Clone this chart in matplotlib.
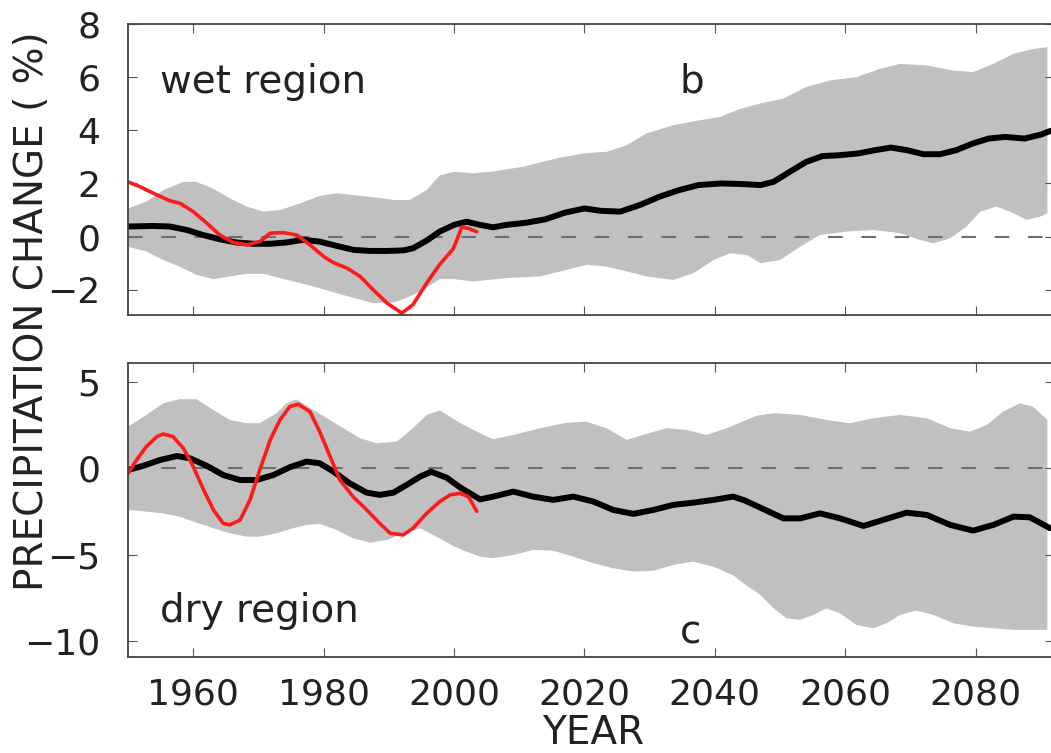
import numpy as np
import matplotlib
matplotlib.use("Agg")
import matplotlib.pyplot as plt

# ---- wet region (panel b) ----
wet_mean_years = [1950, 1953.9, 1956.4, 1959, 1961.5, 1964.1, 1966.6, 1969.2, 1971.8, 1974.3,
                  1976.9, 1979.4, 1982, 1984.6, 1987.1, 1989.7, 1992.2, 1993.7, 1995.8, 1997.8,
                  2000, 2001.9, 2004, 2006, 2008, 2011, 2014, 2017, 2020, 2022.5,
                  2025.5, 2028.5, 2031.5, 2034.5, 2037.5, 2041, 2044, 2047, 2049, 2051.5,
                  2054, 2056.5, 2059, 2062, 2064.5, 2067, 2069.5, 2072, 2074.5, 2077,
                  2079.5, 2082, 2084.5, 2087.5, 2090, 2091.5]
wet_mean = [0.38, 0.4, 0.38, 0.25, 0.06, -0.1, -0.22, -0.27, -0.27, -0.22,
            -0.12, -0.19, -0.35, -0.5, -0.54, -0.54, -0.52, -0.44, -0.15, 0.19,
            0.44, 0.56, 0.44, 0.35, 0.44, 0.52, 0.65, 0.9, 1.06, 0.97,
            0.94, 1.19, 1.5, 1.75, 1.94, 2.0, 1.98, 1.94, 2.06, 2.44,
            2.81, 3.03, 3.06, 3.13, 3.25, 3.35, 3.25, 3.1, 3.1, 3.25,
            3.5, 3.69, 3.75, 3.69, 3.84, 3.98]

wet_up_years = [1950, 1952.8, 1955.4, 1958.5, 1960.5, 1963, 1965.6, 1968.2, 1970.8, 1973.3,
                1976.4, 1979.4, 1982, 1984.6, 1987.6, 1990.7, 1993.2, 1995.8, 1997.8, 2000,
                2002.8, 2006, 2010.6, 2015.7, 2019.8, 2023.4, 2026.5, 2029.5, 2033.6, 2037.7,
                2040.8, 2043.8, 2046.8, 2050.5, 2054, 2057.7, 2061.7, 2065.3, 2068.4, 2072.5,
                2076.6, 2079.6, 2082.7, 2085.8, 2088.8, 2091]
wet_upper = [1.06, 1.31, 1.75, 2.06, 2.06, 1.81, 1.44, 1.13, 0.94, 1.0,
             1.25, 1.53, 1.63, 1.56, 1.48, 1.38, 1.38, 1.75, 2.3, 2.44,
             2.38, 2.45, 2.63, 2.94, 3.13, 3.19, 3.44, 3.88, 4.19, 4.38,
             4.5, 4.8, 5.0, 5.19, 5.63, 5.88, 6.0, 6.31, 6.5, 6.44,
             6.25, 6.19, 6.5, 6.88, 7.06, 7.13]

wet_lo_years = [1950, 1952.8, 1955.4, 1957.9, 1960.5, 1963.1, 1965.6, 1968.2, 1970.8, 1973.3,
                1976.4, 1979.4, 1982, 1984.6, 1987.6, 1990.7, 1992.7, 1995.3, 1997.8, 2000,
                2002.9, 2008, 2013.2, 2017.3, 2020.3, 2023.4, 2026.5, 2029.5, 2033.6, 2036.7,
                2039.8, 2042.3, 2044.9, 2047, 2050, 2053.1, 2056.1, 2060.2, 2064.3, 2068.4,
                2071.5, 2073.5, 2076.1, 2078.6, 2080.7, 2083.2, 2085.8, 2087.8, 2089.9, 2091]
wet_lower = [-0.38, -0.56, -0.88, -1.13, -1.44, -1.6, -1.5, -1.4, -1.4, -1.56,
             -1.75, -1.94, -2.13, -2.31, -2.5, -2.48, -2.31, -2.0, -1.6, -1.6,
             -1.69, -1.56, -1.5, -1.25, -1.06, -1.13, -1.31, -1.5, -1.63, -1.38,
             -0.88, -0.63, -0.69, -1.0, -0.88, -0.38, 0.06, 0.19, 0.25, 0.13,
             -0.13, -0.25, -0.06, 0.38, 0.94, 1.13, 0.88, 0.63, 0.75, 0.88]

wet_obs_years = [1950, 1951.8, 1953.9, 1956.4, 1958, 1960, 1962.1, 1964.1, 1966.1, 1968.2,
                 1970.2, 1971.8, 1973.8, 1975.9, 1977.9, 1980, 1981.5, 1983.6, 1985.6, 1987.6,
                 1989.7, 1992, 1993.7, 1995.8, 1997.8, 1999.9, 2001.2, 2002.3, 2003.5]
wet_obs = [2.06, 1.88, 1.63, 1.35, 1.25, 0.94, 0.5, 0.06, -0.22, -0.31,
           -0.19, 0.13, 0.15, 0.06, -0.31, -0.75, -0.98, -1.19, -1.5, -2.0,
           -2.5, -2.88, -2.56, -1.75, -1.05, -0.45, 0.36, 0.3, 0.18]

# ---- dry region (panel c) ----
dry_mean_years = [1950, 1952.3, 1954.9, 1957.5, 1959.5, 1962.1, 1964.6, 1967.2, 1969.7, 1972.3,
                  1974.8, 1977.4, 1979.4, 1981.5, 1984, 1986.6, 1988.6, 1990.7, 1992.7, 1994.8,
                  1996.5, 1998.9, 2000.9, 2002, 2004, 2006, 2009.1, 2012.1, 2015.2, 2018.3,
                  2021.4, 2024.4, 2027.5, 2030.6, 2033.6, 2036.7, 2039.8, 2042.8, 2044.5, 2046.8,
                  2050.5, 2053.1, 2056.1, 2059.2, 2062.8, 2065.8, 2069.4, 2072.5, 2076.1, 2079.6,
                  2082.7, 2085.8, 2088.3, 2091.4]
dry_mean = [-0.1, 0.14, 0.48, 0.71, 0.58, 0.14, -0.39, -0.68, -0.68, -0.39,
            0.06, 0.39, 0.29, -0.19, -0.87, -1.41, -1.54, -1.41, -0.97, -0.48,
            -0.2, -0.55, -1.1, -1.35, -1.8, -1.64, -1.35, -1.64, -1.83, -1.64,
            -1.93, -2.41, -2.64, -2.41, -2.12, -1.99, -1.83, -1.64, -1.85, -2.25,
            -2.9, -2.9, -2.61, -2.9, -3.34, -2.99, -2.57, -2.7, -3.28, -3.61,
            -3.28, -2.8, -2.84, -3.47]

dry_up_years = [1950, 1952.8, 1955.4, 1957.9, 1960.5, 1963.1, 1965.6, 1968.2, 1970.2, 1972.8,
                1974.3, 1975.8, 1978.4, 1980.5, 1983, 1985.6, 1988.1, 1991.2, 1993.7, 1995.8,
                1997.8, 2000, 2001, 2004, 2006, 2009.1, 2013.2, 2017.3, 2020.3, 2023.4,
                2026.5, 2029.5, 2032.6, 2035.7, 2038.7, 2041.8, 2044.5, 2046.5, 2049, 2053.1,
                2057.1, 2060.7, 2064.3, 2068.4, 2072.5, 2076.1, 2079.1, 2081.7, 2084.2, 2086.8,
                2088.8, 2091]
dry_upper = [2.41, 3.09, 3.76, 4.0, 4.0, 3.38, 2.8, 2.61, 2.61, 3.19,
             3.76, 4.0, 3.38, 2.9, 2.32, 1.74, 1.45, 1.54, 2.32, 3.09,
             3.35, 2.85, 2.61, 2.03, 1.68, 1.93, 2.32, 2.64, 2.7, 2.32,
             1.64, 1.99, 2.32, 2.22, 1.93, 2.32, 2.75, 3.05, 3.19, 3.09,
             2.8, 2.61, 2.9, 3.09, 2.9, 2.32, 2.12, 2.51, 3.28, 3.76,
             3.57, 2.8]

dry_lo_years = [1950, 1952.8, 1955.4, 1957.9, 1960.5, 1963.1, 1965.6, 1968.2, 1970.2, 1972.8,
                1975.3, 1977.4, 1979.4, 1982, 1984.5, 1987.1, 1989.7, 1992.2, 1994.8, 1997.3,
                1999.9, 2001.9, 2004, 2006, 2009.1, 2012.1, 2015.2, 2018.3, 2021.4, 2024.4,
                2027.5, 2030.6, 2033.6, 2036.7, 2039.8, 2042.8, 2044.9, 2046.9, 2049, 2051,
                2053.1, 2055.1, 2057.1, 2059.2, 2061.7, 2064.3, 2066.3, 2068.4, 2070.9, 2073.5,
                2076.6, 2079.6, 2082.7, 2085.8, 2088.8, 2091]
dry_lower = [-2.41, -2.51, -2.61, -2.8, -3.15, -3.47, -3.76, -3.96, -3.96, -3.76,
             -3.47, -3.28, -3.22, -3.57, -4.05, -4.31, -4.15, -3.76, -3.47, -3.96,
             -4.5, -4.83, -5.12, -5.21, -5.02, -4.73, -4.77, -5.12, -5.5, -5.79,
             -5.98, -5.93, -5.6, -5.41, -5.7, -6.2, -6.8, -7.3, -8.11, -8.69,
             -8.78, -8.49, -8.11, -8.4, -9.07, -9.27, -8.98, -8.49, -8.24, -8.49,
             -8.98, -9.17, -9.27, -9.36, -9.36, -9.36]

dry_obs_years = [1950, 1951.3, 1952.8, 1954.4, 1955.4, 1956.9, 1958.5, 1960, 1961.6, 1963.1,
                 1964.6, 1965.6, 1967.2, 1968.7, 1970.2, 1971.8, 1973.3, 1974.8, 1976.1, 1977.9,
                 1979.4, 1981, 1982.5, 1984.5, 1986.6, 1988.6, 1990.2, 1992.2, 1993.7, 1995.8,
                 1997.8, 1999.4, 2000.9, 2002.2, 2003.5]
dry_obs = [-0.3, 0.48, 1.25, 1.83, 1.99, 1.83, 1.16, 0.1, -1.25, -2.41,
           -3.19, -3.28, -2.99, -1.83, -0.1, 1.64, 2.8, 3.57, 3.71, 3.28,
           2.12, 0.68, -0.68, -1.64, -2.41, -3.19, -3.76, -3.86, -3.47, -2.61,
           -1.93, -1.54, -1.45, -1.64, -2.5]

x_ticks = [1960, 1980, 2000, 2020, 2040, 2060, 2080]

TEXT_COLOR = "#222222"


def draw_panel(ax, up_x, up, lo_x, lo, mean_x, mean, obs_x, obs):
    band_x = np.concatenate([up_x, lo_x[::-1]])
    band_y = np.concatenate([up, lo[::-1]])
    ax.fill(band_x, band_y, color="#c0c0c0", linewidth=0)
    ax.axhline(0, color="#6e6e6e", lw=1.5, linestyle=(0, (7, 9)))
    ax.plot(mean_x, mean, color="black", lw=4.3,
            solid_capstyle="round", solid_joinstyle="round")
    ax.plot(obs_x, obs, color="#ff1a1a", lw=2.6,
            solid_capstyle="round", solid_joinstyle="round")
    ax.set_xlim(1950, 2092)
    ax.set_xticks(x_ticks)
    ax.tick_params(direction="in", length=6.5, width=0.8, color="#555555",
                   labelcolor=TEXT_COLOR, top=True, right=True, labelsize=26)
    ax.tick_params(axis="y", pad=20)
    ax.tick_params(axis="x", pad=15)
    for s in ax.spines.values():
        s.set_color("#444444")
        s.set_linewidth(1.3)


fig = plt.figure(figsize=(10.51, 7.53), dpi=100)
ax1 = fig.add_axes([0.1218, 0.5817, 0.881, 0.3864])
ax2 = fig.add_axes([0.1218, 0.1275, 0.881, 0.3900])

draw_panel(ax1, np.array(wet_up_years), np.array(wet_upper),
           np.array(wet_lo_years), np.array(wet_lower),
           wet_mean_years, wet_mean, wet_obs_years, wet_obs)
ax1.set_ylim(-2.95, 8)
ax1.set_yticks([-2, 0, 2, 4, 6, 8])
ax1.tick_params(axis="x", labelbottom=False)
ax1.text(1954.9, 5.4, "wet region", fontsize=28, va="baseline", color=TEXT_COLOR)
ax1.text(2036.5, 5.44, "b", fontsize=28, va="baseline", ha="center", color=TEXT_COLOR)

draw_panel(ax2, np.array(dry_up_years), np.array(dry_upper),
           np.array(dry_lo_years), np.array(dry_lower),
           dry_mean_years, dry_mean, dry_obs_years, dry_obs)
ax2.set_ylim(-10.93, 6.08)
ax2.set_yticks([-10, -5, 0, 5])
ax2.text(1954.9, -8.88, "dry region", fontsize=28, va="baseline", color=TEXT_COLOR)
ax2.text(2036.3, -10.13, "c", fontsize=28, va="baseline", ha="center", color=TEXT_COLOR)

fig.text(32 / 1051, 0.5863, "PRECIPITATION CHANGE ( %)", rotation=90,
         fontsize=28, ha="center", va="center", color=TEXT_COLOR)
fig.text(0.564, 0.012, "YEAR", fontsize=28, ha="center", va="baseline", color=TEXT_COLOR)

fig.savefig("out.png", dpi=100)
